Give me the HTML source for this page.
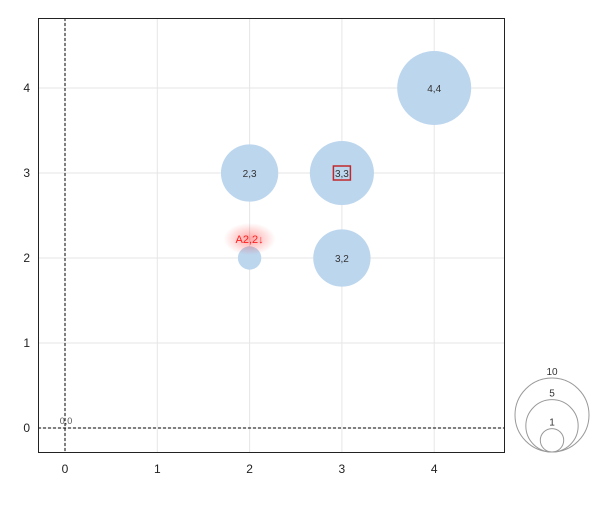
<!DOCTYPE html>
<html><head><meta charset="utf-8"><style>
body{margin:0;background:#fff;font-family:"Liberation Sans",sans-serif}
</style></head><body>
<svg id="c" width="600" height="500" xmlns="http://www.w3.org/2000/svg">
<defs><radialGradient id="glow"><stop offset="0" stop-color="#ff0000" stop-opacity="0.35"/><stop offset="1" stop-color="#ff0000" stop-opacity="0"/></radialGradient></defs>
</svg>
<script>
const xs=[2,3,4,3,2,0];
const ys=[3,3,4,2,2,0];
const sizes=[6,7.5,10,6,1,0];
const labels=["2,3","3,3","4,4","3,2","",""];
const xTicks=[0,1,2,3,4];
const yTicks=[0,1,2,3,4];
const legendSizes=[10,5,1];
const NS="http://www.w3.org/2000/svg";
const svg=document.getElementById('c');
const L=38,R=505,T=18,B=453;
const X=v=>65+v*92.3;
const Y=v=>428-v*85;
const rad=s=>11.7*Math.sqrt(s);
function mk(t,a,p){const e=document.createElementNS(NS,t);for(const k in a)e.setAttribute(k,a[k]);(p||svg).appendChild(e);return e;}
let bg=mk('rect',{x:L,y:T,width:R-L,height:B-T,fill:'#fff',stroke:'none'});


xTicks.forEach(v=>{
 let g=mk('line',{x1:X(v),x2:X(v),y1:T,y2:B,stroke:'#e6e6e6'});
 
 
 let t=mk('text',{x:X(v),y:473,'text-anchor':'middle','font-size':12,fill:'#222'});t.textContent=v;
 
 
});
yTicks.forEach(v=>{
 let g=mk('line',{x1:L,x2:R,y1:Y(v),y2:Y(v),stroke:'#e6e6e6'});
 
 
 let t=mk('text',{x:30,y:Y(v)+4,'text-anchor':'end','font-size':12,fill:'#222'});t.textContent=v;
 
 
});
let zx=mk('line',{x1:X(0),x2:X(0),y1:T,y2:B,stroke:'#000','stroke-dasharray':'3,2'});


let zy=mk('line',{x1:L,x2:R,y1:Y(0),y2:Y(0),stroke:'#000','stroke-dasharray':'3,2'});


let fr=mk('rect',{x:L+0.5,y:T+0.5,width:R-L-1,height:B-T-1,fill:'none',stroke:'#222'});


xs.forEach((x,i)=>{
 let c=mk('circle',{cx:X(x),cy:Y(ys[i]),r:rad(sizes[i]),fill:'#bcd6ee'});
 
 
 if(labels[i]){let t=mk('text',{x:X(x),y:Y(ys[i])+4,'text-anchor':'middle','font-size':10,fill:'#333'});t.textContent=labels[i];
 
 }
});
let hb=mk('rect',{x:X(3)-8.5,y:Y(3)-7,width:17,height:14,fill:'none',stroke:'#c0282d','stroke-width':1.5});


let gl=mk('ellipse',{cx:X(2),cy:Y(2)-19,rx:26,ry:16,fill:'url(#glow)'});


let an=mk('text',{x:X(2),y:Y(2)-15,'text-anchor':'middle','font-size':11,fill:'#ff2020'});an.textContent='A2,2↓';


let zl=mk('text',{x:X(0)+1,y:Y(0)-4,'text-anchor':'middle','font-size':9,fill:'#555'});zl.textContent='0,0';


legendSizes.forEach(s=>{
 const r=rad(s);
 let c=mk('circle',{cx:552,cy:452-r,r:r,fill:'none',stroke:'#999'});
 
 
 let t=mk('text',{x:552,y:452-2*r-3,'text-anchor':'middle','font-size':10,fill:'#333'});t.textContent=s;
 
 
});
</script>
</body></html>
